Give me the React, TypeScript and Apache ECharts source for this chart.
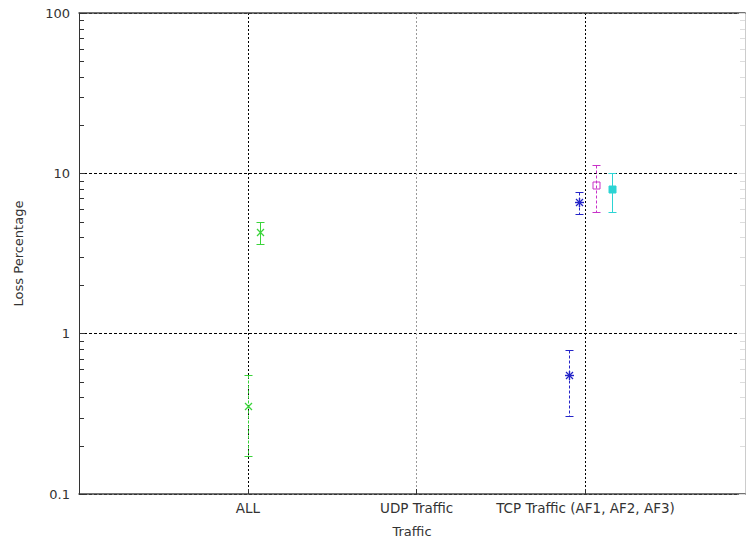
import React, { useEffect, useRef } from "react";
import * as echarts from "echarts";

const categories = ["", "ALL", "UDP Traffic", "TCP Traffic (AF1, AF2, AF3)"];
const minorTicks = [0.2, 0.3, 0.4, 0.5, 0.6, 0.7, 0.8, 0.9, 2, 3, 4, 5, 6, 7, 8, 9, 20, 30, 40, 50, 60, 70, 80, 90];

const greenSolidX = [1.07];
const greenSolidMean = [4.3];
const greenSolidLow = [3.65];
const greenSolidHigh = [5.0];

const greenDashX = [1.0];
const greenDashMean = [0.355];
const greenDashLow = [0.173];
const greenDashHigh = [0.555];

const blueX = [2.96, 2.9];
const blueMean = [6.6, 0.555];
const blueLow = [5.6, 0.307];
const blueHigh = [7.65, 0.79];

const magentaX = [3.06];
const magentaMean = [8.5];
const magentaLow = [5.75];
const magentaHigh = [11.2];

const cyanX = [3.16];
const cyanMean = [7.95];
const cyanLow = [5.75];
const cyanHigh = [10.1];

const FONT = "DejaVu Sans";

const crisp = (v: number) => Math.round(v) + 0.5;

function makeSeries(
  name: string,
  xs: number[],
  means: number[],
  lows: number[],
  highs: number[],
  color: string,
  dashed: boolean,
  marker: string
) {
  return {
    type: "custom",
    name,
    xAxisIndex: 0,
    yAxisIndex: 0,
    clip: false,
    encode: { x: 0, y: [1, 2, 3] },
    data: xs.map((x, i) => [x, means[i], lows[i], highs[i]]),
    renderItem: (params: any, api: any) => {
      const x = api.value(0);
      const pm = api.coord([x, api.value(1)]);
      const plo = api.coord([x, api.value(2)]);
      const phi = api.coord([x, api.value(3)]);
      const cx = crisp(pm[0]);
      const cy = crisp(pm[1]);
      const yT = crisp(phi[1]);
      const yB = crisp(plo[1]);
      const cap = 4;
      const s = 3.5;
      const ln = (x1: number, y1: number, x2: number, y2: number, w = 1, dash: any = null) => ({
        type: "line",
        shape: { x1, y1, x2, y2 },
        style: { stroke: color, fill: null, lineWidth: w, lineDash: dash },
      });
      const children: any[] = [
        ln(cx, yT, cx, yB, 1, dashed ? [3, 2] : null),
        ln(cx - cap, yT, cx + cap, yT),
        ln(cx - cap, yB, cx + cap, yB),
      ];
      if (marker === "x" || marker === "star") {
        children.push(ln(cx - s, cy - s, cx + s, cy + s, 1.2), ln(cx - s, cy + s, cx + s, cy - s, 1.2));
      }
      if (marker === "star") {
        children.push(ln(cx - s - 1, cy, cx + s + 1, cy, 1.4), ln(cx, cy - s - 1, cx, cy + s + 1, 1.4));
      }
      if (marker === "box" || marker === "fbox") {
        children.push({
          type: "rect",
          shape: { x: cx - 3.5, y: cy - 3.5, width: 7, height: 7 },
          style: { fill: marker === "fbox" ? color : "none", stroke: color, lineWidth: 1 },
        });
      }
      return { type: "group", children };
    },
  };
}

export default function App() {
  const ref = useRef<HTMLDivElement>(null);
  useEffect(() => {
    if (!ref.current) return;
    const chart = echarts.init(ref.current, null, { renderer: "svg" });
    const textStyle = { fontFamily: FONT, fontSize: 13, color: "#333" };
    const xMax = 3.945;
    chart.setOption({
      animation: false,
      backgroundColor: "#fff",
      grid: { left: 79, right: 2, top: 13, bottom: 51, show: false },
      xAxis: [
        {
          type: "value",
          min: 0,
          max: xMax,
          interval: 1,
          name: "Traffic",
          nameLocation: "middle",
          nameGap: 31,
          nameTextStyle: textStyle,
          axisLine: { show: true, onZero: false, lineStyle: { color: "#444", width: 1.5 } },
          axisTick: { show: true, inside: true, length: 5, lineStyle: { color: "#333" } },
          axisLabel: {
            ...textStyle,
            fontSize: 13.5,
            margin: 7,
            showMaxLabel: false,
            formatter: (v: number) => categories[Math.round(v)] || "",
          },
          splitLine: {
            show: true,
            lineStyle: { color: ["#000", "#000", "#999", "#000", "#ddd"], type: [2, 2], width: 1 },
          },
        },
        {
          type: "value",
          position: "top",
          min: 0,
          max: xMax,
          axisLine: { show: true, onZero: false, lineStyle: { color: "#444", width: 1.5 } },
          axisTick: { show: false },
          axisLabel: { show: false },
          splitLine: { show: false },
        },
      ],
      yAxis: [
        {
          type: "log",
          logBase: 10,
          min: 0.1,
          max: 100,
          name: "Loss Percentage",
          nameLocation: "middle",
          nameGap: 54,
          nameTextStyle: textStyle,
          axisLine: { show: true, onZero: false, lineStyle: { color: "#333", width: 1 } },
          axisTick: { show: true, inside: true, length: 6, lineStyle: { color: "#333" } },
          axisLabel: { ...textStyle, margin: 9, formatter: (v: number) => String(v) },
          splitLine: { show: true, lineStyle: { color: "#000", type: [3, 2], width: 1 } },
        },
        {
          type: "log",
          logBase: 10,
          min: 0.1,
          max: 100,
          position: "right",
          axisLine: { show: true, onZero: false, lineStyle: { color: "#ccc", width: 1 } },
          axisTick: { show: true, inside: true, length: 6, lineStyle: { color: "#ddd" } },
          axisLabel: { show: false },
          splitLine: { show: false },
        },
      ],
      series: [
        {
          type: "custom",
          name: "minorTicks",
          xAxisIndex: 0,
          yAxisIndex: 0,
          silent: true,
          clip: false,
          z: 5,
          encode: { x: 0, y: 1 },
          data: minorTicks.map((v) => [0, v]),
          renderItem: (params: any, api: any) => {
            const p = api.coord([0, api.value(1)]);
            const cs = params.coordSys;
            const y = crisp(p[1]);
            return {
              type: "group",
              children: [
                {
                  type: "line",
                  shape: { x1: cs.x, y1: y, x2: cs.x + 5, y2: y },
                  style: { stroke: "#333", lineWidth: 1 },
                },
                {
                  type: "line",
                  shape: { x1: cs.x + cs.width - 5, y1: y, x2: cs.x + cs.width, y2: y },
                  style: { stroke: "#ddd", lineWidth: 1 },
                },
              ],
            };
          },
        },
        makeSeries("ALL upper", greenSolidX, greenSolidMean, greenSolidLow, greenSolidHigh, "#3ad43a", false, "x"),
        makeSeries("ALL lower", greenDashX, greenDashMean, greenDashLow, greenDashHigh, "#3ad43a", true, "x"),
        makeSeries("TCP AF1", blueX, blueMean, blueLow, blueHigh, "#2424c8", true, "star"),
        makeSeries("TCP AF2", magentaX, magentaMean, magentaLow, magentaHigh, "#c832c8", true, "box"),
        makeSeries("TCP AF3", cyanX, cyanMean, cyanLow, cyanHigh, "#2cd4d4", false, "fbox"),
      ],
    });
    return () => chart.dispose();
  }, []);
  return (
    <div
      ref={ref}
      style={{ position: "fixed", left: 0, top: 0, width: 747, height: 545, background: "#fff" }}
    />
  );
}
